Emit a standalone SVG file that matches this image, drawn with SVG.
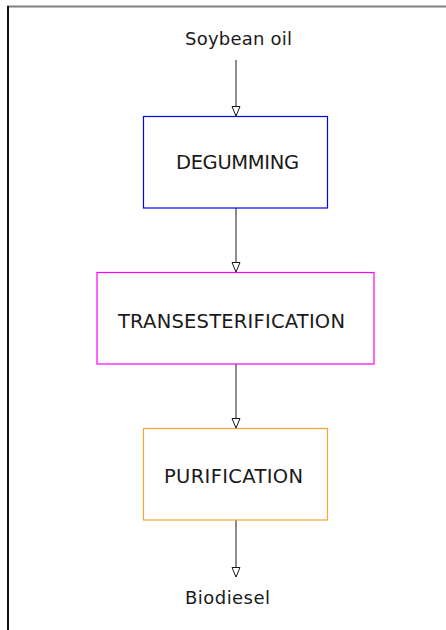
<svg xmlns="http://www.w3.org/2000/svg" width="446" height="630" viewBox="0 0 446 630">
<style>
.box{fill:#ffffff;stroke-width:1.2}
.lbl{font-family:"DejaVu Sans",Verdana,sans-serif;fill:#1a1a1a}
.conn{stroke:#1a1a1a;stroke-width:1;fill:none;marker-end:url(#arr)}
</style>
<defs>
<marker id="arr" markerWidth="12" markerHeight="12" refX="10" refY="5" orient="auto" markerUnits="userSpaceOnUse">
<path d="M0.5,1 L10,5 L0.5,9 Z" fill="#ffffff" stroke="#1a1a1a" stroke-width="1"/>
</marker>
</defs>
<rect x="0" y="0" width="446" height="630" fill="#ffffff"/>
<line x1="7" y1="6.5" x2="446" y2="6.5" stroke="#808080" stroke-width="2"/>
<line x1="8" y1="6" x2="8" y2="630" stroke="#111111" stroke-width="2"/>
<g id="connectors">
<line class="conn" x1="236" y1="60" x2="236" y2="116"/>
<line class="conn" x1="236" y1="208" x2="236" y2="272"/>
<line class="conn" x1="236" y1="364" x2="236" y2="428"/>
<line class="conn" x1="236" y1="520" x2="236" y2="577"/>
</g>
<g id="soybean">
<text class="lbl" x="185" y="45" font-size="18" textLength="107">Soybean oil</text>
</g>
<g id="degumming">
<rect class="box" x="143.5" y="116.5" width="184" height="91.5" stroke="#0000ff"/>
<text class="lbl" x="176" y="169" font-size="19.5" textLength="123">DEGUMMING</text>
</g>
<g id="transesterification">
<rect class="box" x="97" y="272.5" width="277" height="91.5" stroke="#ff00ff"/>
<text class="lbl" x="118" y="328" font-size="19.5" textLength="227">TRANSESTERIFICATION</text>
</g>
<g id="purification">
<rect class="box" x="143.5" y="428.5" width="184" height="91.5" stroke="#ffa033"/>
<text class="lbl" x="164" y="482.5" font-size="19.5" textLength="139">PURIFICATION</text>
</g>
<g id="biodiesel">
<text class="lbl" x="185" y="603.5" font-size="18" textLength="85">Biodiesel</text>
</g>
</svg>
